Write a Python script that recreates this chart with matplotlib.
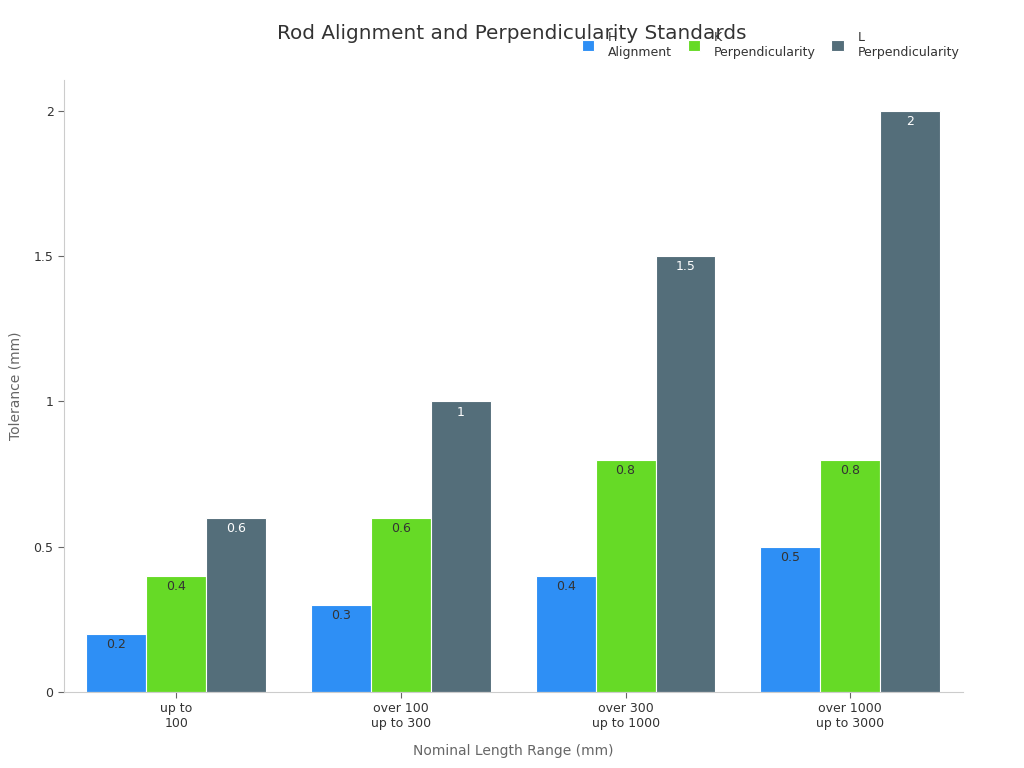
import matplotlib
matplotlib.use("Agg")
import matplotlib.pyplot as plt
import numpy as np

categories = ["up to\n100", "over 100\nup to 300", "over 300\nup to 1000", "over 1000\nup to 3000"]
series_names = ["H\nAlignment", "K\nPerpendicularity", "L\nPerpendicularity"]
h_alignment = [0.2, 0.3, 0.4, 0.5]
k_perp = [0.4, 0.6, 0.8, 0.8]
l_perp = [0.6, 1.0, 1.5, 2.0]
colors = ["#2E8FF5", "#66DA26", "#546E7A"]
label_colors = ["#333333", "#333333", "#ffffff"]

fig = plt.figure(figsize=(10.24, 7.68), dpi=100)
ax = fig.add_axes([0.0625, 0.099, 0.8775, 0.797])

x = np.arange(len(categories))
w = 0.8 / 3
for i, vals in enumerate([h_alignment, k_perp, l_perp]):
    bars = ax.bar(x + (i - 1) * w, vals, w, color=colors[i], edgecolor="white",
                  linewidth=0.8, label=series_names[i])
    for b, v in zip(bars, vals):
        ax.annotate(f"{v:g}", (b.get_x() + b.get_width() / 2, b.get_height()),
                    xytext=(0, -3), textcoords="offset points", ha="center", va="top",
                    fontsize=9, color=label_colors[i])

ax.set_xlim(-0.5, 3.5)
ax.set_ylim(0, 2.107)
ax.set_xticks(x)
ax.set_xticklabels(categories, fontsize=9, color="#333333")
ax.set_yticks([0, 0.5, 1, 1.5, 2])
ax.set_yticklabels(["0", "0.5", "1", "1.5", "2"], fontsize=9, color="#333333")
for s in ["top", "right"]:
    ax.spines[s].set_visible(False)
for s in ["left", "bottom"]:
    ax.spines[s].set_color("#cccccc")
ax.tick_params(colors="#666666", labelcolor="#333333", length=4)
ax.set_xlabel("Nominal Length Range (mm)", fontsize=10, color="#666666", labelpad=10)
ax.set_ylabel("Tolerance (mm)", fontsize=10, color="#666666", labelpad=8)

fig.text(0.5, 0.957, "Rod Alignment and Perpendicularity Standards", ha="center", va="center",
         fontsize=14.4, color="#333333")
ax.legend(loc="lower right", bbox_to_anchor=(1.005, 1.022), ncol=3, frameon=False, fontsize=9,
          handlelength=1.0, handleheight=1.0, columnspacing=1.25, handletextpad=1.1,
          labelcolor="#333333", borderaxespad=0.2)

fig.savefig("out.png", dpi=100)
